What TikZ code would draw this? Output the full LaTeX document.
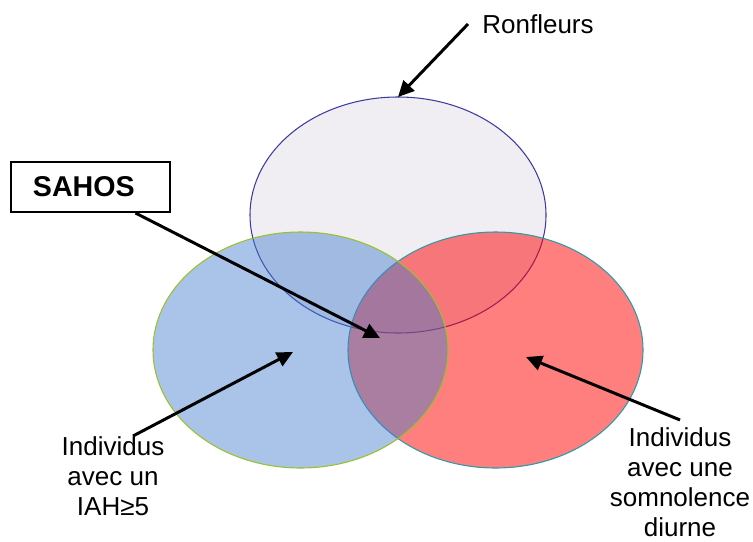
\documentclass[tikz,border=0pt]{standalone}
\usepackage{fontspec}
\setmainfont{Liberation Sans}
\usetikzlibrary{arrows.meta}
\definecolor{lavande}{RGB}{240,237,243}
\definecolor{bordlav}{RGB}{60,60,160}
\definecolor{bleuiah}{RGB}{64,124,204}
\definecolor{bordbleu}{RGB}{155,192,42}
\definecolor{bordrouge}{RGB}{42,154,168}
\begin{document}
\begin{tikzpicture}[x=0.02cm,y=-0.02cm,>={Triangle[length=0.32cm,width=0.3cm]},
	fleche/.style={->,line width=1.7pt},
	etiq/.style={align=center,inner sep=0pt,font=\fontsize{14.8}{17.2}\selectfont}]
	\useasboundingbox (0,0) rectangle (753,541);
	\draw[bordlav,line width=0.6pt,fill=lavande] (398,215) ellipse (148 and 118);
	\draw[bordrouge,line width=0.6pt,fill=red,fill opacity=0.5] (495.5,350) ellipse (147.5 and 118);
	\draw[bordbleu,line width=0.6pt,fill=bleuiah,fill opacity=0.45] (300.5,350) ellipse (147.5 and 118);
	\coordinate (haut) at (398,97);
	\coordinate (centre) at (380,338);
	\coordinate (gauche) at (293,352);
	\coordinate (droite) at (526,357);
	\node[etiq,inner xsep=0.28cm] (ronfleurs) at (538,24) {Ronfleurs};
	\node[draw,line width=1.1pt,anchor=west,text width=2.3cm,inner xsep=0.44cm,minimum height=1cm,
		font=\bfseries\fontsize{16.3}{19}\selectfont] (sahos) at (10,187) {SAHOS};
	\node[etiq,anchor=north] (iah) at (113,436) {Individus\\avec un\\IAH≥5};
	\node[etiq,anchor=north] (diurne) at (680,427) {Individus\\avec une\\somnolence\\diurne};
	\draw[fleche] (ronfleurs.west) -- (haut);
	\draw[fleche] (sahos.-30) -- (centre);
	\draw[fleche] ([xshift=0.4cm]iah.north) -- (gauche);
	\draw[fleche] ([yshift=4pt]diurne.north) -- (droite);
\end{tikzpicture}
\end{document}
